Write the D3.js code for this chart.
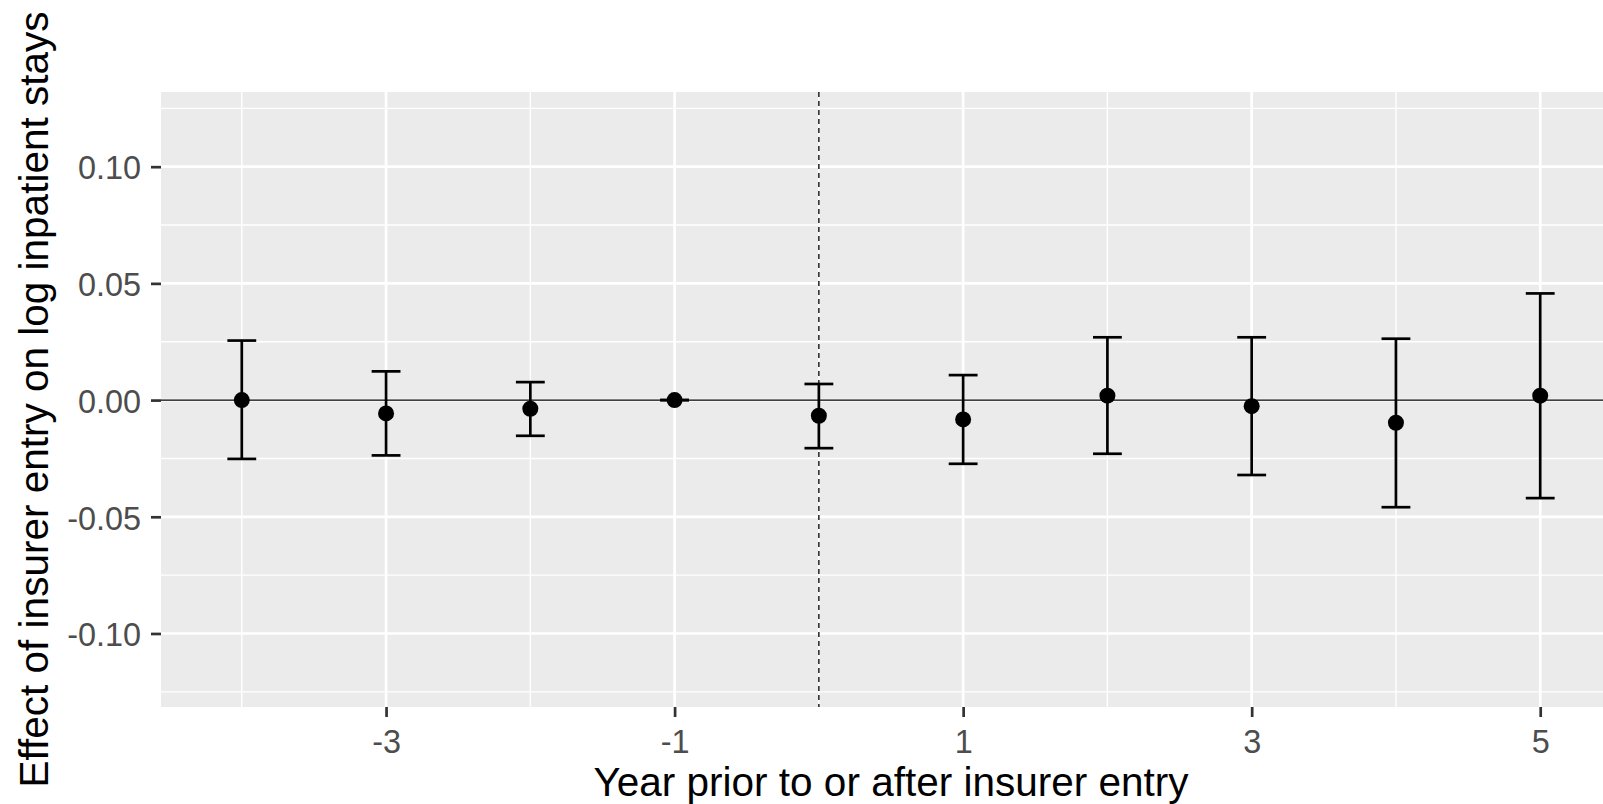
<!DOCTYPE html>
<html>
<head>
<meta charset="utf-8">
<script src="https://cdn.jsdelivr.net/npm/d3@7"></script>
<style>
  html, body { margin: 0; padding: 0; background: #fff; overflow: hidden; }
  svg { display: block; font-family: "Liberation Sans", Arial, Helvetica, sans-serif; }
</style>
</head>
<body>
<div class="event-plot"></div>
<script>
// event-study estimates
const years = [-4, -3, -2, -1, 0, 1, 2, 3, 4, 5];
const estimate = [0.0000, -0.0057, -0.0037, 0.0000, -0.0067, -0.0083, 0.0019, -0.0026, -0.0097, 0.0019];
const lower = [-0.0252, -0.0237, -0.0153, 0.0000, -0.0206, -0.0273, -0.0230, -0.0321, -0.0459, -0.0420];
const upper = [0.0255, 0.0123, 0.0077, 0.0000, 0.0069, 0.0107, 0.0269, 0.0269, 0.0263, 0.0457];

const xTicks = [-3, -1, 1, 3, 5];
const xMinor = [-4, -2, 0, 2, 4];
const yTicks = [-0.10, -0.05, 0.00, 0.05, 0.10];
const yMinor = [-0.125, -0.075, -0.025, 0.025, 0.075, 0.125];

const xTitle = "Year prior to or after insurer entry";
const yTitle = "Effect of insurer entry on log inpatient stays";

const data = years.map((y, i) => ({year: y, est: estimate[i], lo: lower[i], hi: upper[i]}));

const w = 1603;
const h = 804;
const panel = {left: 161, right: 1621, top: 92, bottom: 707};

const svg = d3.select('.event-plot')
    .append('svg')
    .attr('width', w)
    .attr('height', h);

const x = d3.scaleLinear().domain([-4.56, 5.56]).range([panel.left, panel.right]);
const y = d3.scaleLinear().domain([-0.1315, 0.132]).range([panel.bottom, panel.top]);

// panel background
svg.append('rect')
    .attr('x', panel.left)
    .attr('y', panel.top)
    .attr('width', panel.right - panel.left)
    .attr('height', panel.bottom - panel.top)
    .attr('fill', '#EBEBEB');

const grid = svg.append('g');

// minor grid
grid.selectAll('.ymin').data(yMinor).enter().append('line')
    .attr('x1', panel.left).attr('x2', panel.right)
    .attr('y1', d => y(d)).attr('y2', d => y(d))
    .attr('stroke', '#fff').attr('stroke-width', 1.4);
grid.selectAll('.xmin').data(xMinor).enter().append('line')
    .attr('y1', panel.top).attr('y2', panel.bottom)
    .attr('x1', d => x(d)).attr('x2', d => x(d))
    .attr('stroke', '#fff').attr('stroke-width', 1.4);

// major grid
grid.selectAll('.ymaj').data(yTicks).enter().append('line')
    .attr('x1', panel.left).attr('x2', panel.right)
    .attr('y1', d => y(d)).attr('y2', d => y(d))
    .attr('stroke', '#fff').attr('stroke-width', 2.7);
grid.selectAll('.xmaj').data(xTicks).enter().append('line')
    .attr('y1', panel.top).attr('y2', panel.bottom)
    .attr('x1', d => x(d)).attr('x2', d => x(d))
    .attr('stroke', '#fff').attr('stroke-width', 2.7);

// zero line and entry year line
svg.append('line')
    .attr('x1', panel.left).attr('x2', panel.right)
    .attr('y1', y(0)).attr('y2', y(0))
    .attr('stroke', '#000').attr('stroke-width', 1.3);
svg.append('line')
    .attr('x1', x(0)).attr('x2', x(0))
    .attr('y1', panel.top).attr('y2', panel.bottom)
    .attr('stroke', '#000').attr('stroke-width', 1.3)
    .attr('stroke-dasharray', '5,4');

// error bars
const capHalf = (x(0.1) - x(0));
const bars = svg.append('g').attr('stroke', '#000').attr('stroke-width', 2.7);
bars.selectAll('.stem').data(data).enter().append('line')
    .attr('x1', d => x(d.year)).attr('x2', d => x(d.year))
    .attr('y1', d => y(d.lo)).attr('y2', d => y(d.hi));
bars.selectAll('.capHi').data(data).enter().append('line')
    .attr('x1', d => x(d.year) - capHalf).attr('x2', d => x(d.year) + capHalf)
    .attr('y1', d => y(d.hi)).attr('y2', d => y(d.hi));
bars.selectAll('.capLo').data(data).enter().append('line')
    .attr('x1', d => x(d.year) - capHalf).attr('x2', d => x(d.year) + capHalf)
    .attr('y1', d => y(d.lo)).attr('y2', d => y(d.lo));

// points
svg.selectAll('circle')
    .data(data)
    .enter()
    .append('circle')
    .attr('cx', d => x(d.year))
    .attr('cy', d => y(d.est))
    .attr('r', 8)
    .attr('fill', '#000');

// axes
const xAxis = svg.append('g')
    .attr('transform', `translate(0,${panel.bottom})`)
    .call(d3.axisBottom(x).tickValues(xTicks).tickSize(10).tickPadding(12.5).tickFormat(d => String(d)));
const yAxis = svg.append('g')
    .attr('transform', `translate(${panel.left},0)`)
    .call(d3.axisLeft(y).tickValues(yTicks).tickSize(10).tickPadding(10).tickFormat(d => d.toFixed(2)));

[xAxis, yAxis].forEach(a => {
    a.select('.domain').remove();
    a.selectAll('.tick line').attr('stroke', '#333333').attr('stroke-width', 2.7);
    a.selectAll('.tick text')
        .attr('fill', '#4D4D4D')
        .attr('font-size', 32.4)
        .attr('font-family', '"Liberation Sans", Arial, Helvetica, sans-serif');
});
yAxis.selectAll('.tick text').attr('dy', '0.38em');

// axis titles
svg.append('text')
    .attr('x', (panel.left + panel.right) / 2)
    .attr('y', 796)
    .attr('text-anchor', 'middle')
    .attr('font-size', 40.5)
    .attr('fill', '#000')
    .text(xTitle);

svg.append('text')
    .attr('transform', `translate(48,${(panel.top + panel.bottom) / 2}) rotate(-90)`)
    .attr('text-anchor', 'middle')
    .attr('font-size', 40.5)
    .attr('fill', '#000')
    .text(yTitle);
</script>
</body>
</html>
